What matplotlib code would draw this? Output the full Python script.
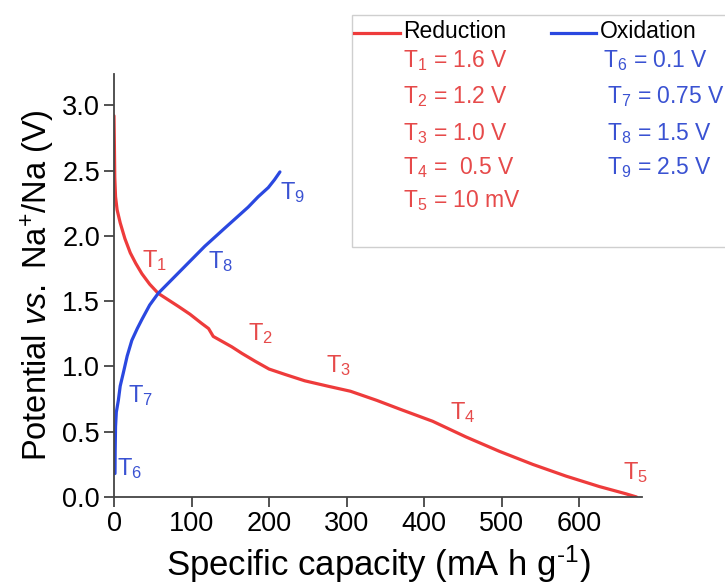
import matplotlib
matplotlib.use("Agg")
import matplotlib.pyplot as plt
from matplotlib.patches import Rectangle
from matplotlib.lines import Line2D

plt.rcParams['font.family'] = ['Liberation Sans', 'DejaVu Sans']
plt.rcParams['mathtext.fontset'] = 'custom'
plt.rcParams['mathtext.rm'] = 'Liberation Sans'
plt.rcParams['mathtext.it'] = 'Liberation Sans:italic'

# reduction (discharge) curve
red_cap = [0, 0.5, 1, 2, 4, 8, 14, 21, 28, 36, 46, 57, 70, 83, 98, 113, 122, 128,
           140, 152, 165, 182, 200, 220, 246, 275, 305, 339, 370, 411, 454, 497,
           540, 583, 626, 660, 674]
red_pot = [2.92, 2.70, 2.45, 2.30, 2.20, 2.10, 1.98, 1.87, 1.79, 1.71, 1.63, 1.56,
           1.51, 1.46, 1.40, 1.33, 1.29, 1.23, 1.19, 1.15, 1.10, 1.04, 0.98, 0.94,
           0.89, 0.85, 0.81, 0.74, 0.67, 0.58, 0.46, 0.35, 0.25, 0.16, 0.08, 0.025, 0.0]

# oxidation (charge) curve
blue_cap = [1.3, 1.5, 2, 3, 5.6, 8, 12, 17, 23, 30, 36, 46, 57, 72, 87, 102, 117,
            130, 143, 158, 173, 186, 199, 207, 214]
blue_pot = [0.18, 0.35, 0.54, 0.65, 0.74, 0.85, 0.95, 1.08, 1.20, 1.29, 1.36, 1.47,
            1.56, 1.65, 1.74, 1.83, 1.92, 1.99, 2.06, 2.14, 2.22, 2.30, 2.37, 2.43, 2.49]

# point markers along the curves
red_marks = ['1', '2', '3', '4', '5']
red_mark_xy = [(36, 1.81), (173, 1.25), (274, 1.01), (433, 0.65), (656, 0.19)]
blue_marks = ['6', '7', '8', '9']
blue_mark_xy = [(4, 0.22), (18, 0.78), (121, 1.80), (214, 2.33)]

red_key = ['1.6 V', '1.2 V', '1.0 V', ' 0.5 V', '10 mV']
blue_key = ['0.1 V', '0.75 V', '1.5 V', '2.5 V']

RED = '#ee3b3b'
BLUE = '#2a48e0'
RED_TXT = '#e64a4a'
BLUE_TXT = '#3a52d2'

W, H = 725, 585
fig = plt.figure(figsize=(W / 100, H / 100), dpi=100)
ax = fig.add_axes([114 / W, 1 - 497 / H, (642 - 114) / W, (497 - 74) / H])

ax.plot(red_cap, red_pot, color=RED, lw=2.3, solid_capstyle='round')
ax.plot(blue_cap, blue_pot, color=BLUE, lw=2.3, solid_capstyle='round')

for n, (x, y) in zip(red_marks, red_mark_xy):
    ax.text(x, y, r'T$_\mathregular{%s}$' % n, color=RED_TXT, fontsize=17,
            ha='left', va='center')
for n, (x, y) in zip(blue_marks, blue_mark_xy):
    ax.text(x, y, r'T$_\mathregular{%s}$' % n, color=BLUE_TXT, fontsize=17,
            ha='left', va='center')

ax.set_xlim(0, 681)
ax.set_ylim(0, 3.24)
ax.set_xticks(range(0, 700, 100))
ax.set_yticks([0, 0.5, 1.0, 1.5, 2.0, 2.5, 3.0])
ax.set_yticklabels(['%.1f' % v for v in ax.get_yticks()])
for s in ['top', 'right']:
    ax.spines[s].set_visible(False)
for s in ['left', 'bottom']:
    ax.spines[s].set_color('#444444')
    ax.spines[s].set_linewidth(1.3)
ax.tick_params(direction='out', length=7, width=1.3, color='#444444',
               labelsize=19.5, pad=3)
ax.set_xlabel(r'Specific capacity (mA h g$^{\text{-1}}$)', fontsize=25, labelpad=5)
ax.set_ylabel(r'Potential $\mathit{vs.}$ Na$^\mathregular{+}$/Na (V)', fontsize=23.5, labelpad=4)

# key box in the upper right, running off the edge
fig.add_artist(Rectangle((352 / W, 1 - 247 / H), 400 / W, 232 / H,
                         transform=fig.transFigure, facecolor='white',
                         edgecolor='#cfcfcf', lw=1, zorder=5))
fig.add_artist(Line2D([354 / W, 400 / W], [1 - 33 / H] * 2, color=RED, lw=2.3,
                      transform=fig.transFigure, zorder=6))
fig.add_artist(Line2D([551 / W, 596 / W], [1 - 33 / H] * 2, color=BLUE, lw=2.3,
                      transform=fig.transFigure, zorder=6))
fig.text(403 / W, 1 - 32 / H, 'Reduction', fontsize=16.5, ha='left', va='center', zorder=7)
fig.text(600 / W, 1 - 32 / H, 'Oxidation', fontsize=16.5, ha='left', va='center', zorder=7)

red_rows = [61, 97, 134, 168, 201]
for n, val, yy in zip(red_marks, red_key, red_rows):
    fig.text(403 / W, 1 - yy / H, r'T$_\mathregular{%s}$ = %s' % (n, val),
             color=RED_TXT, fontsize=16.5, ha='left', va='center', zorder=7)
blue_rows = [61, 97, 134, 168]
blue_left = [603, 607, 607, 607]
for n, val, yy, xx in zip(blue_marks, blue_key, blue_rows, blue_left):
    fig.text(xx / W, 1 - yy / H, r'T$_\mathregular{%s}$ = %s' % (n, val),
             color=BLUE_TXT, fontsize=16.5, ha='left', va='center', zorder=7)

fig.savefig('out.png', dpi=100)
